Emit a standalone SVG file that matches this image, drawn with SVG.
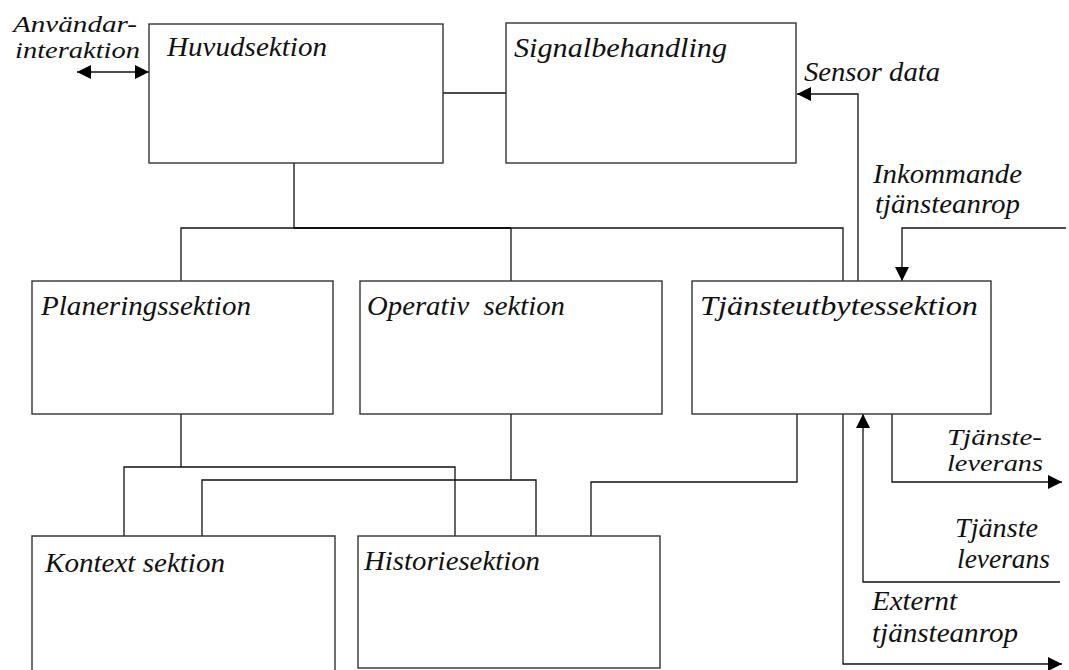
<svg xmlns="http://www.w3.org/2000/svg" width="1069" height="670" viewBox="0 0 1069 670" font-family="Liberation Serif, DejaVu Serif, serif">
  <style>
    .box { fill: #fff; stroke: #333; stroke-width: 1.4; }
    .wire { fill: none; stroke: #111; stroke-width: 1.3; }
    text { font-style: italic; font-size: 28px; fill: #111; }
    text.sm { font-size: 23px; }
  </style>
  <defs>
    <marker id="arr" viewBox="0 0 10 10" refX="10" refY="5" markerWidth="15" markerHeight="14" markerUnits="userSpaceOnUse" orient="auto-start-reverse">
      <path d="M0,0 L10,5 L0,10 Z" fill="#000"/>
    </marker>
  </defs>
  <rect width="1069" height="670" fill="#fff"/>

  <!-- connectors -->
  <g id="connectors" class="wire">
    <!-- user interaction (bidirectional) -->
    <line x1="77" y1="72" x2="149" y2="72" marker-start="url(#arr)" marker-end="url(#arr)"/>
    <!-- Huvudsektion to Signalbehandling -->
    <line x1="443" y1="93" x2="506" y2="93"/>
    <!-- sensor data into Signalbehandling -->
    <polyline points="858,283 858,94 797,94" marker-end="url(#arr)"/>
    <!-- incoming service calls -->
    <polyline points="1066,228 902,228 902,281" marker-end="url(#arr)"/>
    <!-- main bus from Huvudsektion -->
    <line x1="294" y1="163" x2="294" y2="228"/>
    <polyline points="181,281 181,228 843,228 843,281"/>
    <line x1="294" y1="228" x2="511" y2="228" stroke-width="2"/>
    <line x1="511" y1="228" x2="511" y2="281"/>
    <!-- Planeringssektion down to Kontext / Historie -->
    <line x1="181" y1="414" x2="181" y2="467"/>
    <polyline points="124,536 124,467 455,467 455,536"/>
    <!-- Operativ sektion down to Kontext / Historie -->
    <line x1="511" y1="414" x2="511" y2="480"/>
    <polyline points="202,536 202,480 536,480 536,536"/>
    <!-- Tjänsteutbytessektion to Historiesektion -->
    <polyline points="797,414 797,482 591,482 591,536"/>
    <!-- service delivery out -->
    <polyline points="892,414 892,482 1062,482" marker-end="url(#arr)"/>
    <!-- service delivery in -->
    <polyline points="1060,582 863,582 863,414" marker-end="url(#arr)"/>
    <!-- external service call out -->
    <polyline points="843,414 843,664 1062,664" marker-end="url(#arr)"/>
  </g>

  <g id="huvudsektion">
    <rect class="box" x="149" y="24" width="294" height="139"/>
    <text x="167" y="56" textLength="160" lengthAdjust="spacingAndGlyphs">Huvudsektion</text>
  </g>
  <g id="signalbehandling">
    <rect class="box" x="506" y="23" width="290" height="140"/>
    <text x="514" y="57" textLength="213" lengthAdjust="spacingAndGlyphs">Signalbehandling</text>
  </g>
  <g id="planeringssektion">
    <rect class="box" x="32" y="281" width="301" height="133"/>
    <text x="41" y="315" textLength="210" lengthAdjust="spacingAndGlyphs">Planeringssektion</text>
  </g>
  <g id="operativ-sektion">
    <rect class="box" x="360" y="281" width="302" height="133"/>
    <text x="367" y="315" textLength="198" lengthAdjust="spacingAndGlyphs" xml:space="preserve">Operativ  sektion</text>
  </g>
  <g id="tjansteutbytessektion">
    <rect class="box" x="692" y="281" width="299" height="133"/>
    <text x="700" y="315" textLength="278" lengthAdjust="spacingAndGlyphs">Tjänsteutbytessektion</text>
  </g>
  <g id="kontext-sektion">
    <path class="box" d="M32,672 V536 H335 V672"/>
    <text x="45" y="572" textLength="180" lengthAdjust="spacingAndGlyphs">Kontext sektion</text>
  </g>
  <g id="historiesektion">
    <rect class="box" x="358" y="536" width="302" height="132"/>
    <text x="364" y="570" textLength="176" lengthAdjust="spacingAndGlyphs">Historiesektion</text>
  </g>

  <!-- free labels -->
  <g id="labels">
    <text class="sm" x="13" y="32" textLength="124" lengthAdjust="spacingAndGlyphs">Användar-</text>
    <text class="sm" x="15" y="58" textLength="125" lengthAdjust="spacingAndGlyphs">interaktion</text>
    <text x="804" y="81" textLength="136" lengthAdjust="spacingAndGlyphs">Sensor data</text>
    <text x="873" y="183" textLength="149" lengthAdjust="spacingAndGlyphs">Inkommande</text>
    <text x="875" y="213" textLength="145" lengthAdjust="spacingAndGlyphs">tjänsteanrop</text>
    <text class="sm" x="947" y="445" textLength="95" lengthAdjust="spacingAndGlyphs">Tjänste-</text>
    <text class="sm" x="947" y="471" textLength="96" lengthAdjust="spacingAndGlyphs">leverans</text>
    <text x="955" y="537" textLength="83" lengthAdjust="spacingAndGlyphs">Tjänste</text>
    <text x="957" y="568" textLength="93" lengthAdjust="spacingAndGlyphs">leverans</text>
    <text x="872" y="610" textLength="85" lengthAdjust="spacingAndGlyphs">Externt</text>
    <text x="872" y="642" textLength="146" lengthAdjust="spacingAndGlyphs">tjänsteanrop</text>
  </g>
</svg>
